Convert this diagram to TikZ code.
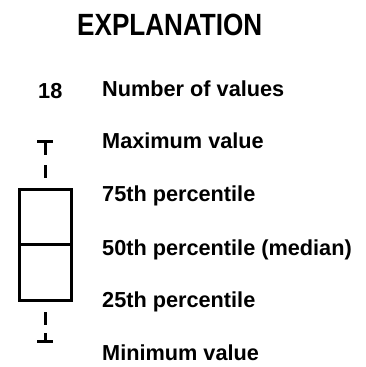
\documentclass[tikz,border=0pt]{standalone}
\usepackage{fontspec}
\setmainfont{Liberation Sans}
\newfontfamily\titlefont[FakeStretch=0.85]{Liberation Sans}
\begin{document}
\begin{tikzpicture}[x=1pt,y=-1pt,
  lbl/.style={anchor=base west,inner sep=0pt,font=\fontsize{21.7}{24}\selectfont\bfseries},
  ttl/.style={anchor=base west,inner sep=0pt,font=\titlefont\fontsize{30.7}{34}\selectfont\bfseries},
  boxline/.style={line width=3pt},
  whisk/.style={line width=3pt}]
\useasboundingbox (0,0) rectangle (366,367);
\node[ttl] (title) at (77,35) {EXPLANATION};
\node[lbl] (n18) at (38,98) {18};
\node[lbl] (nval) at (102,96) {Number of values};
\node[lbl] (max) at (102,148) {Maximum value};
\node[lbl] (p75) at (102,201) {75th percentile};
\node[lbl] (p50) at (102,255) {50th percentile (median)};
\node[lbl] (p25) at (102,307) {25th percentile};
\node[lbl] (min) at (102,360) {Minimum value};
% box
\draw[boxline] (19.5,189.5) rectangle (71,300);
\draw[boxline] (19.5,244.5) -- (71,244.5);
% upper whisker
\draw[whisk] (37,141.5) -- (53,141.5);
\draw[whisk] (45,141.5) -- (45,155);
\draw[whisk] (45,165) -- (45,178);
% lower whisker
\draw[whisk] (45,312) -- (45,325);
\draw[whisk] (45,333) -- (45,341.5);
\draw[whisk] (37,341.5) -- (53,341.5);
\end{tikzpicture}
\end{document}
